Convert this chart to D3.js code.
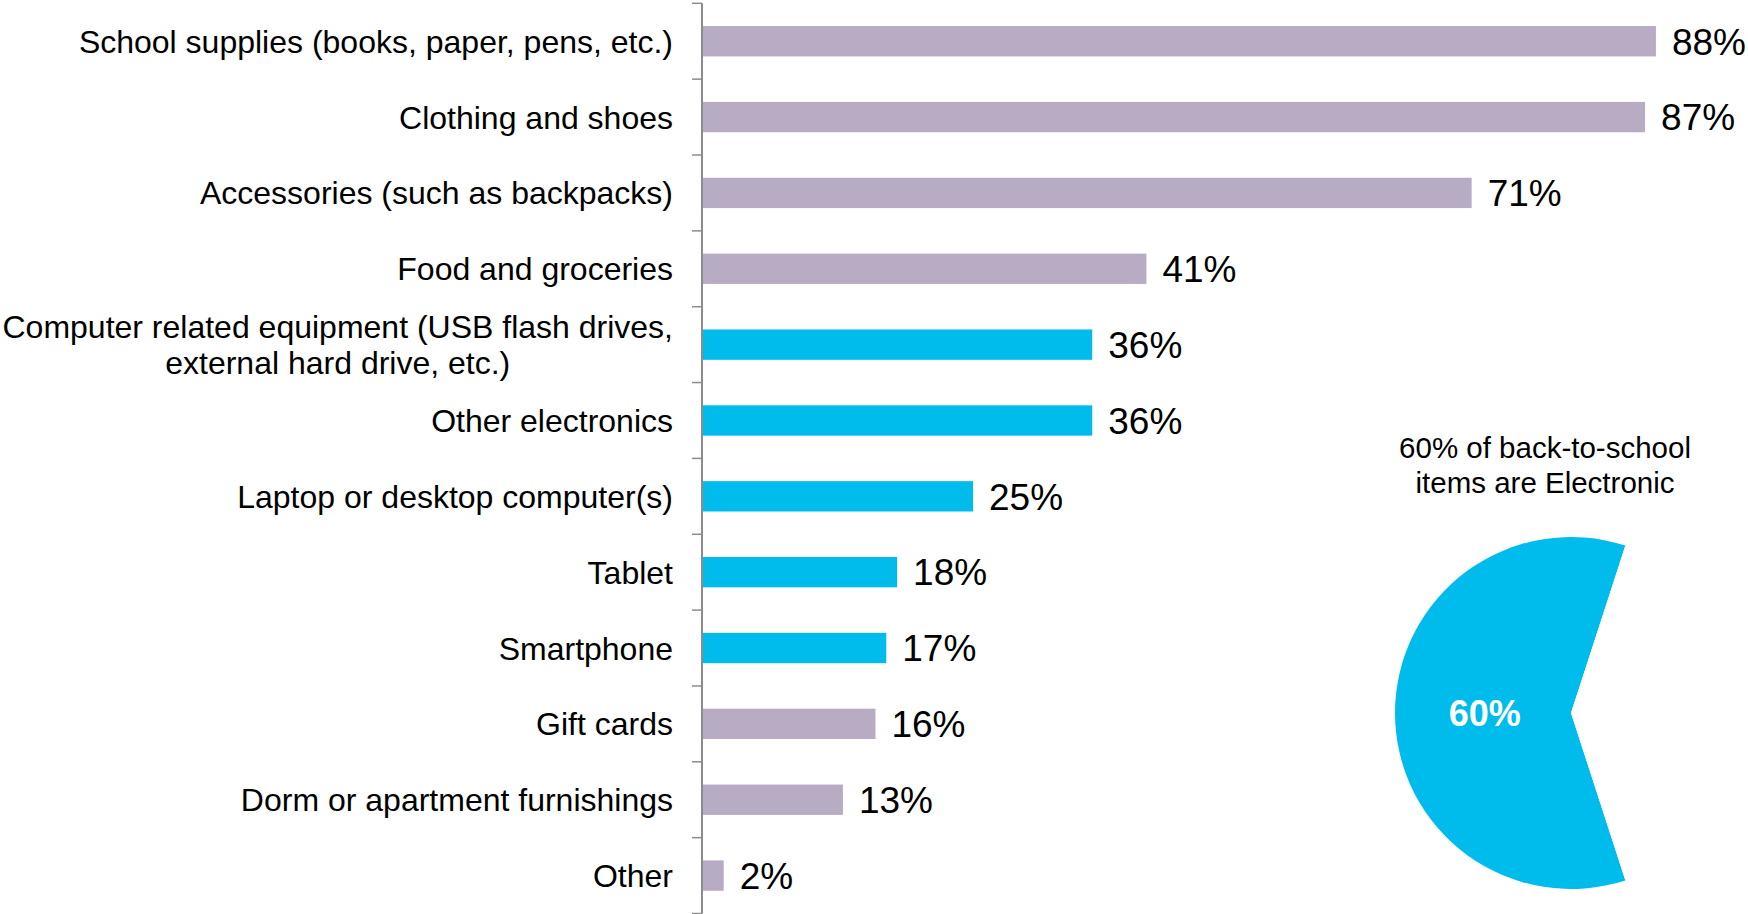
<!DOCTYPE html>
<html>
<head>
<meta charset="utf-8">
<script src="https://cdn.jsdelivr.net/npm/d3@7"></script>
<style>
  html, body { margin: 0; padding: 0; background: #fff; }
  svg { display: block; font-family: "Liberation Sans", Arial, sans-serif; }
</style>
</head>
<body>
<svg id="chart" width="1748" height="914"></svg>
<script>
// Back-to-school purchase categories (share of shoppers, %)
const categories = [
  "School supplies (books, paper, pens, etc.)",
  "Clothing and shoes",
  "Accessories (such as backpacks)",
  "Food and groceries",
  "Computer related equipment (USB flash drives,\nexternal hard drive, etc.)",
  "Other electronics",
  "Laptop or desktop computer(s)",
  "Tablet",
  "Smartphone",
  "Gift cards",
  "Dorm or apartment furnishings",
  "Other"
];
const values = [88, 87, 71, 41, 36, 36, 25, 18, 17, 16, 13, 2];
const isElectronic = [false, false, false, false, true, true, true, true, true, false, false, false];

// Share of items that are electronic
const pieShares = [60, 40];
const pieTitle = ["60% of back-to-school", "items are Electronic"];

const colorOther = "#b8abc4";
const colorElectronic = "#00bcec";

const svg = d3.select("#chart");

const axisX = 702;
const y = d3.scaleBand()
  .domain(categories)
  .range([3.3, 913.5])
  .paddingInner(0.6)
  .paddingOuter(0.3);

const x = d3.scaleLinear().domain([0, 100]).range([axisX, axisX + 1084]);

// Bars
svg.append("g").selectAll("rect")
  .data(categories)
  .join("rect")
  .attr("x", x(0) + 1)
  .attr("y", d => y(d))
  .attr("width", (d, i) => x(values[i]) - x(0) - 1)
  .attr("height", y.bandwidth())
  .attr("fill", (d, i) => isElectronic[i] ? colorElectronic : colorOther);

// Value labels
svg.append("g").selectAll("text")
  .data(categories)
  .join("text")
  .attr("x", (d, i) => x(values[i]) + 16)
  .attr("y", d => y(d) + y.bandwidth() / 2)
  .attr("dy", "0.36em")
  .attr("font-size", 37)
  .attr("fill", "#000")
  .text((d, i) => values[i] + "%");

// Category axis: vertical line with ticks at band boundaries
const axisG = svg.append("g");
const step = y.step();
const boundaries = categories.map(c => y(c) - step * y.paddingInner() / 2);
boundaries.push(boundaries[boundaries.length - 1] + step);
axisG.append("line")
  .attr("x1", axisX).attr("x2", axisX)
  .attr("y1", boundaries[0]).attr("y2", boundaries[boundaries.length - 1])
  .attr("stroke", "#8c8c8c").attr("stroke-width", 2);
axisG.selectAll("line.tick")
  .data(boundaries)
  .join("line")
  .attr("class", "tick")
  .attr("x1", axisX - 10).attr("x2", axisX)
  .attr("y1", d => d).attr("y2", d => d)
  .attr("stroke", "#8c8c8c").attr("stroke-width", 1.5);

// Category labels (multi-line labels are centred under their first line)
const labelX = 673;
const labelG = svg.append("g").attr("font-size", 32).attr("fill", "#000");
categories.forEach(c => {
  const lines = c.split("\n");
  const cy = y(c) + y.bandwidth() / 2;
  const lh = 35.6;
  if (lines.length === 1) {
    labelG.append("text")
      .attr("x", labelX).attr("y", cy).attr("dy", "0.36em")
      .attr("text-anchor", "end").text(c);
  } else {
    const first = labelG.append("text")
      .attr("x", labelX).attr("y", cy - lh / 2).attr("dy", "0.36em")
      .attr("text-anchor", "end").text(lines[0]);
    const w = first.node().getComputedTextLength();
    const mid = labelX - w / 2;
    lines.slice(1).forEach((ln, k) => {
      labelG.append("text")
        .attr("x", mid).attr("y", cy - lh / 2 + lh * (k + 1)).attr("dy", "0.36em")
        .attr("text-anchor", "middle").text(ln);
    });
  }
});

// Pie: electronic share, with the remaining slice left blank
const pieCx = 1571, pieCy = 713, pieR = 176;
const pieStart = Math.PI * (162 / 180);
const pie = d3.pie().sort(null)
  .startAngle(pieStart)
  .endAngle(pieStart + 2 * Math.PI);
const arcs = pie(pieShares);
const arc = d3.arc().innerRadius(0).outerRadius(pieR);
const pieG = svg.append("g").attr("transform", `translate(${pieCx},${pieCy})`);
pieG.selectAll("path")
  .data(arcs)
  .join("path")
  .attr("d", arc)
  .attr("fill", (d, i) => i === 0 ? colorElectronic : "#ffffff");

const labelArc = d3.arc().innerRadius(pieR * 0.49).outerRadius(pieR * 0.49);
pieG.append("text")
  .attr("transform", `translate(${labelArc.centroid(arcs[0])})`)
  .attr("text-anchor", "middle")
  .attr("dy", "0.36em")
  .attr("font-size", 36)
  .attr("font-weight", "bold")
  .attr("fill", "#fff")
  .text(pieShares[0] + "%");

svg.append("g").selectAll("text")
  .data(pieTitle)
  .join("text")
  .attr("x", 1545)
  .attr("y", (d, i) => 458 + i * 35)
  .attr("text-anchor", "middle")
  .attr("font-size", 29.5)
  .attr("fill", "#000")
  .text(d => d);
</script>
</body>
</html>
